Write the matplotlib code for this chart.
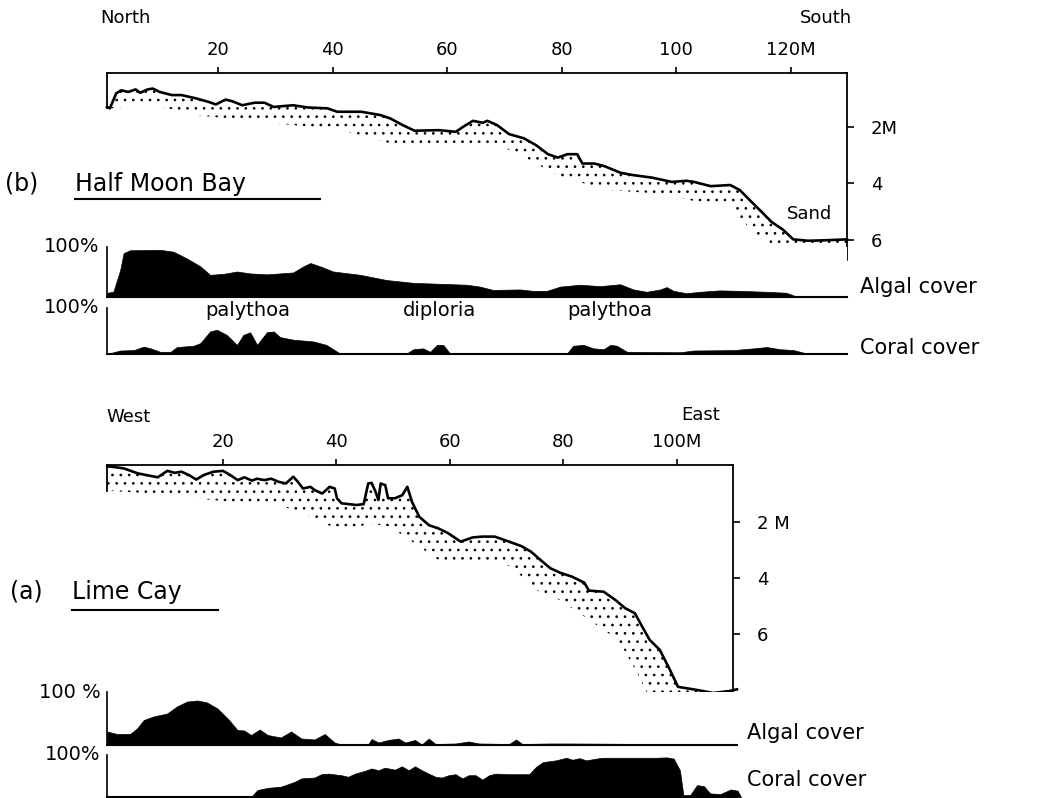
import numpy as np
import matplotlib.pyplot as plt
from matplotlib.lines import Line2D

plt.rcParams['font.family'] = ['DejaVu Sans']
plt.rcParams['hatch.linewidth'] = 0.7

# -----------------------------
# (b) Half Moon Bay  (distance in m, depth in m, cover in %)
# -----------------------------
hmb_dist = [0.6, 1.1, 2.2, 3.1, 4.3, 5.6, 6.4, 7.7, 8.6, 9.8, 11.9, 13.6, 16.2, 18.3, 19.6,
            21.3, 22.5, 24.2, 26.4, 28.1, 29.7, 33.1, 35.7, 39.1, 40.8, 45.0, 48.4, 50.1,
            52.2, 54.3, 58.6, 61.5, 62.8, 64.5, 66.2, 67.0, 68.7, 70.8, 73.4, 75.5, 77.6,
            79.3, 81.0, 82.7, 83.6, 85.7, 87.4, 90.3, 92.5, 95.8, 99.2, 101.8, 103.1, 106.0,
            109.4, 111.1, 112.8, 114.9, 116.6, 118.7, 120.4, 123.0, 126.4, 129.8]
hmb_depth = [1.30, 1.35, 0.82, 0.71, 0.77, 0.68, 0.80, 0.68, 0.65, 0.77, 0.88, 0.88, 1.00,
             1.12, 1.21, 1.04, 1.10, 1.24, 1.15, 1.15, 1.30, 1.24, 1.32, 1.35, 1.47, 1.47,
             1.59, 1.71, 1.94, 2.14, 2.12, 2.18, 2.00, 1.79, 1.86, 1.79, 1.94, 2.26, 2.41,
             2.65, 2.97, 3.09, 2.97, 2.97, 3.30, 3.30, 3.39, 3.63, 3.71, 3.80, 3.95, 3.91,
             3.95, 4.10, 4.06, 4.24, 4.59, 5.01, 5.36, 5.65, 5.98, 6.03, 6.01, 5.98]
hmb_base_dist = [1.4, 7.7, 16.2, 24.7, 33.1, 41.6, 50.1, 54.3, 58.6, 65.3, 71.3, 79.7, 88.2,
                 96.7, 105.2, 109.4, 113.6, 117.9, 122.1, 129.8]
hmb_base_depth = [1.35, 1.18, 1.59, 1.77, 1.94, 2.12, 2.59, 2.71, 2.71, 2.59, 2.83, 3.77, 4.24,
                  4.36, 4.71, 4.83, 5.77, 6.30, 6.60, 6.60]

hmb_algae_dist = [0.6, 1.7, 2.9, 3.5, 4.6, 9.9, 12.2, 14.5, 16.9, 18.6, 20.9, 23.3, 25.6, 28.5,
                  33.1, 34.9, 36.1, 37.8, 40.1, 44.8, 49.4, 54.1, 58.7, 63.4, 65.7, 68.0, 72.7,
                  75.0, 77.4, 79.7, 83.2, 86.7, 90.2, 92.5, 94.8, 97.2, 98.3, 99.5, 101.8,
                  104.1, 107.6, 111.1, 115.8, 119.2, 121.0, 129.8]
hmb_algae_pct = [9, 11, 57, 93, 99, 100, 96, 82, 65, 47, 49, 54, 50, 48, 52, 65, 72, 65, 54, 47,
                 36, 30, 28, 26, 22, 15, 16, 13, 13, 22, 26, 23, 27, 16, 11, 16, 21, 13, 8, 11,
                 14, 13, 11, 9, 1, 0]

hmb_coral_dist = [0.6, 2.9, 5.3, 7.0, 8.2, 9.9, 11.7, 12.8, 15.7, 16.9, 18.6, 19.8, 21.5, 23.3,
                  24.4, 25.6, 26.8, 28.5, 29.7, 30.8, 33.1, 36.6, 38.9, 41.3, 52.9, 54.1, 55.8,
                  57.0, 58.2, 59.3, 60.5, 80.9, 82.0, 83.8, 85.5, 87.3, 88.5, 89.6, 91.4, 100.7,
                  103.0, 110.0, 113.5, 115.8, 118.1, 120.5, 122.8, 129.8]
hmb_coral_pct = [0, 8, 9, 17, 13, 5, 5, 16, 19, 25, 52, 56, 44, 21, 44, 50, 21, 50, 52, 39, 33,
                 29, 21, 1, 1, 11, 13, 5, 21, 21, 1, 1, 19, 21, 13, 11, 21, 19, 5, 4, 8, 9, 13,
                 16, 11, 9, 1, 0]
hmb_species = ['palythoa', 'diploria', 'palythoa']
hmb_species_at = [25.2, 58.7, 88.4]

# -----------------------------
# (a) Lime Cay
# -----------------------------
lc_dist = [-0.4, 2.5, 5.0, 8.5, 10.2, 11.5, 12.7, 14.0, 15.3, 16.6, 18.3, 20.0, 21.3, 22.6,
           23.8, 25.1, 26.0, 27.3, 28.5, 29.8, 31.1, 32.4, 33.2, 34.1, 35.4, 36.2, 37.5, 38.8,
           39.7, 40.1, 40.9, 43.5, 44.8, 45.6, 46.2, 46.9, 47.4, 47.8, 48.6, 49.1, 50.3, 51.6,
           52.5, 53.3, 54.6, 56.3, 58.0, 59.7, 61.9, 64.0, 65.7, 67.9, 70.0, 72.6, 74.3, 76.0,
           77.7, 79.4, 81.5, 83.7, 84.5, 87.1, 89.2, 90.9, 92.6, 93.9, 95.2, 97.0, 98.8, 100.2,
           103.5, 106.4, 109.3, 110.6]
lc_depth = [0.0, 0.08, 0.26, 0.40, 0.17, 0.24, 0.20, 0.32, 0.48, 0.32, 0.20, 0.17, 0.32, 0.50,
            0.40, 0.52, 0.45, 0.50, 0.45, 0.56, 0.62, 0.38, 0.56, 0.80, 0.74, 0.86, 0.98, 0.74,
            0.80, 1.15, 1.33, 1.39, 1.36, 0.62, 0.60, 0.92, 1.21, 0.62, 0.68, 1.15, 1.15, 1.04,
            0.74, 1.27, 1.81, 2.11, 2.23, 2.40, 2.70, 2.55, 2.52, 2.52, 2.67, 2.86, 3.06, 3.36,
            3.65, 3.81, 3.95, 4.17, 4.45, 4.49, 4.79, 5.08, 5.26, 5.74, 6.21, 6.57, 7.29, 7.89,
            8.00, 8.11, 8.04, 7.98]
lc_base_dist = [-0.4, 7.7, 15.3, 23.8, 30.7, 35.0, 39.2, 42.6, 46.1, 49.5, 53.8, 58.0, 62.3,
                66.6, 70.9, 75.1, 79.4, 83.7, 88.0, 90.0, 93.0, 95.2, 98.2, 101.8, 108.8, 109.9]
lc_base_depth = [0.88, 0.98, 1.15, 1.33, 1.45, 1.75, 2.17, 2.23, 2.05, 2.17, 2.76, 3.36, 3.48,
                 3.36, 3.60, 4.43, 4.79, 5.38, 5.98, 6.32, 7.39, 8.29, 8.71, 8.86, 8.79, 8.79]

lc_algae_dist = [-0.4, 1.3, 3.6, 4.8, 6.0, 7.7, 10.1, 11.8, 13.6, 15.4, 17.1, 18.9, 20.7, 22.4,
                 23.6, 24.8, 26.3, 27.7, 30.0, 31.8, 33.6, 35.9, 37.7, 39.4, 40.6, 45.3, 45.9,
                 47.1, 48.8, 50.6, 51.8, 53.5, 54.7, 55.9, 57.1, 60.6, 62.9, 64.7, 70.0, 71.2,
                 72.3, 77.0, 80.6, 109.9]
lc_algae_pct = [27, 22, 22, 33, 50, 57, 63, 77, 87, 89, 85, 73, 53, 30, 29, 20, 31, 20, 15, 27,
                13, 11, 22, 5, 1, 1, 12, 5, 10, 13, 5, 10, 1, 13, 2, 3, 7, 3, 2, 11, 2, 3, 3, 1]

lc_coral_dist = [-0.4, 24.8, 25.9, 27.7, 30.0, 32.4, 33.6, 35.9, 37.1, 38.3, 40.6, 41.8, 43.0,
                 44.7, 45.9, 47.1, 48.2, 50.0, 51.2, 52.4, 53.5, 54.7, 55.9, 57.1, 58.2, 59.4,
                 60.6, 61.8, 62.9, 64.1, 65.3, 66.5, 67.6, 70.0, 73.5, 74.7, 75.9, 78.2, 80.0,
                 81.1, 82.3, 83.5, 85.3, 86.4, 88.8, 92.3, 95.8, 97.6, 98.8, 99.9, 100.5, 101.7,
                 102.9, 104.1, 105.2, 107.0, 108.8, 110.0, 110.6]
lc_coral_pct = [0, 0, 17.5, 23, 26, 38, 47, 49, 57.5, 59, 55, 51, 59, 66, 72, 67.5, 74, 69, 77.5,
                67.5, 77.5, 67.5, 59, 51, 49, 55, 57.5, 47, 55, 55, 44, 55, 59, 57.5, 57.5, 76,
                88, 92.5, 99, 94, 98, 92.5, 97, 99, 99, 99, 99, 100, 97, 67.5, 5, 5, 30, 27.5, 9,
                7.5, 19, 16, 0]

W, H = 1040, 798


def box(l, t, r, b):
    # pixel box -> figure fraction rect
    return [l / W, 1 - b / H, (r - l) / W, (b - t) / H]


fig = plt.figure(figsize=(10.4, 7.98), dpi=100)
FS = 13


def profile(rect, dist, depth, bdist, bdepth, xlim, ylim, xt, xtl, yt, ytl):
    ax = fig.add_axes(rect)
    ax.plot(dist, depth, color='black', lw=1.9, clip_on=False, solid_joinstyle='round')
    ax.fill(list(dist) + list(bdist[::-1]), list(depth) + list(bdepth[::-1]),
            facecolor='none', edgecolor='black', hatch='..', lw=0)
    ax.set_xlim(*xlim)
    ax.set_ylim(*ylim)
    ax.spines['bottom'].set_visible(False)
    ax.spines['left'].set_bounds(ylim[1], max(depth[0], bdepth[0]))
    for s in ax.spines.values():
        s.set_linewidth(1.3)
    ax.xaxis.tick_top()
    ax.set_xticks(xt)
    ax.set_xticklabels(xtl, fontsize=FS)
    ax.yaxis.tick_right()
    ax.set_yticks(yt)
    ax.set_yticklabels(ytl, fontsize=FS, ha='left')
    ax.tick_params(axis='x', direction='out', length=4, width=1.2, pad=6)
    ax.tick_params(axis='y', direction='out', length=5, width=1.2, pad=12)
    return ax


def cover(rect, dist, pct, xlim, label):
    ax = fig.add_axes(rect)
    ax.fill_between(dist, 0, pct, color='black', lw=0.5, clip_on=False)
    ax.set_xlim(*xlim)
    ax.set_ylim(0, 106)
    ax.spines['top'].set_visible(False)
    ax.spines['right'].set_visible(False)
    ax.spines['left'].set_linewidth(1.2)
    ax.spines['bottom'].set_linewidth(1.5)
    ax.set_xticks([])
    ax.set_yticks([])
    ax.text(-0.01, 1.0, label, transform=ax.transAxes, ha='right', va='center', fontsize=14)
    return ax


# ---- (b) Half Moon Bay ----
xl_b = (0.6, 129.8)
ax_b = profile(box(107, 73, 847, 260), hmb_dist, hmb_depth, hmb_base_dist, hmb_base_depth,
               xl_b, (6.71, 0.1), [20, 40, 60, 80, 100, 120],
               ['20', '40', '60', '80', '100', '120M'], [2, 4, 6], ['2M', '4', '6'])
ax_b.text(123.3, 5.1, 'Sand', fontsize=FS, ha='center', va='center')
fig.text(100 / W, 1 - 18 / H, 'North', fontsize=FS, ha='left', va='center')
fig.text(852 / W, 1 - 18 / H, 'South', fontsize=FS, ha='right', va='center')
fig.text(5 / W, 1 - 184 / H, '(b)', fontsize=17, ha='left', va='center')
fig.text(75 / W, 1 - 184 / H, 'Half Moon Bay', fontsize=17, ha='left', va='center')
fig.add_artist(Line2D([75 / W, 320 / W], [1 - 199 / H] * 2, color='black', lw=1.5))

cover(box(107, 247, 847, 297), hmb_algae_dist, hmb_algae_pct, xl_b, '100%')
fig.text(860 / W, 1 - 287 / H, 'Algal cover', fontsize=15, ha='left', va='center')
ax_bc = cover(box(107, 308, 847, 354), hmb_coral_dist, hmb_coral_pct, xl_b, '100%')
for name, pos in zip(hmb_species, hmb_species_at):
    ax_bc.text(pos, 100, name, fontsize=14, ha='center', va='center')
fig.text(860 / W, 1 - 348 / H, 'Coral cover', fontsize=15, ha='left', va='center')

# ---- (a) Lime Cay ----
xl_a = (-0.44, 109.9)
ax_a = profile(box(107, 465, 733, 712), lc_dist, lc_depth, lc_base_dist, lc_base_depth,
               xl_a, (8.79, -0.04), [20, 40, 60, 80, 100],
               ['20', '40', '60', '80', '100M'], [2, 4, 6], ['2 M', '4', '6'])
fig.text(106 / W, 1 - 417 / H, 'West', fontsize=FS, ha='left', va='center')
fig.text(720 / W, 1 - 415 / H, 'East', fontsize=FS, ha='right', va='center')
fig.text(10 / W, 1 - 592 / H, '(a)', fontsize=17, ha='left', va='center')
fig.text(72 / W, 1 - 592 / H, 'Lime Cay', fontsize=17, ha='left', va='center')
fig.add_artist(Line2D([72 / W, 218 / W], [1 - 610 / H] * 2, color='black', lw=1.5))

cover(box(107, 692, 737, 745), lc_algae_dist, lc_algae_pct, xl_a, '100 %')
fig.text(747 / W, 1 - 733 / H, 'Algal cover', fontsize=15, ha='left', va='center')
cover(box(107, 755, 737, 797), lc_coral_dist, lc_coral_pct, xl_a, '100%')
fig.text(747 / W, 1 - 780 / H, 'Coral cover', fontsize=15, ha='left', va='center')

fig.savefig('out.png', dpi=100)
